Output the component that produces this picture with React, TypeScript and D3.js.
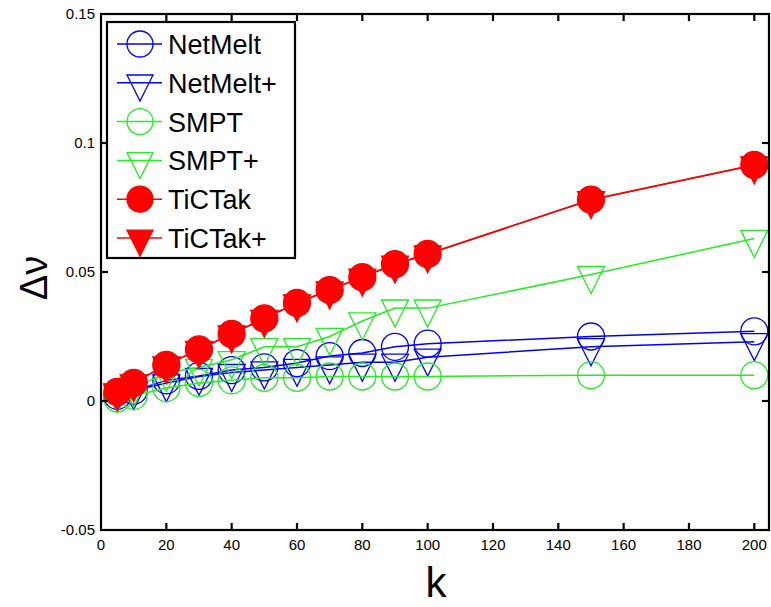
import React, { useEffect, useRef } from 'react';
import * as d3 from 'd3';

// k values on the x axis
const kValues = [5, 10, 20, 30, 40, 50, 60, 70, 80, 90, 100, 150, 200];

// series
const netMelt = [0.002, 0.004, 0.008, 0.0097, 0.012, 0.013, 0.0147, 0.0174, 0.0186, 0.021, 0.0222, 0.025, 0.027];
const netMeltPlus = [0.003, 0.004, 0.007, 0.0095, 0.011, 0.012, 0.013, 0.014, 0.015, 0.015, 0.017, 0.021, 0.023];
const smpt = [0.001, 0.002, 0.005, 0.007, 0.008, 0.009, 0.009, 0.0095, 0.0095, 0.0095, 0.0095, 0.01, 0.01];
const smptPlus = [0.003, 0.005, 0.011, 0.013, 0.016, 0.021, 0.021, 0.025, 0.031, 0.036, 0.036, 0.049, 0.063];
const ticTak = [0.0035, 0.007, 0.014, 0.02, 0.026, 0.032, 0.038, 0.043, 0.048, 0.053, 0.057, 0.078, 0.0915];
const ticTakPlus = [0.0035, 0.007, 0.014, 0.02, 0.026, 0.032, 0.038, 0.043, 0.048, 0.053, 0.057, 0.078, 0.0915];

const seriesNames = ['NetMelt', 'NetMelt+', 'SMPT', 'SMPT+', 'TiCTak', 'TiCTak+'];
const seriesValues = [netMelt, netMeltPlus, smpt, smptPlus, ticTak, ticTakPlus];
const seriesColors = ['#0000ff', '#0000ff', '#22ee22', '#22ee22', '#ff0000', '#ff0000'];
const seriesMarkers = ['circle', 'triangle', 'circle', 'triangle', 'circle', 'triangle'];
const seriesFilled = [false, false, false, false, true, true];

const xTicks = [0, 20, 40, 60, 80, 100, 120, 140, 160, 180, 200];
const yTicks = [-0.05, 0, 0.05, 0.1, 0.15];
const yTickLabels = ['-0.05', '0', '0.05', '0.1', '0.15'];

const FONT = '"Liberation Sans", Arial, Helvetica, sans-serif';

const drawMarker = (g, shape, cx, cy, color, filled, size) => {
  if (shape === 'circle') {
    g.append('circle')
      .attr('cx', cx)
      .attr('cy', cy)
      .attr('r', size / 2)
      .attr('fill', filled ? color : 'none')
      .attr('stroke', color)
      .attr('stroke-width', 1.3);
  } else {
    const w = size / 2;
    const top = size * 0.3;
    const tip = size * 0.7;
    g.append('path')
      .attr('d', `M${cx - w},${cy - top}L${cx + w},${cy - top}L${cx},${cy + tip}Z`)
      .attr('fill', filled ? color : 'none')
      .attr('stroke', color)
      .attr('stroke-width', 1.3)
      .attr('stroke-linejoin', 'miter');
  }
};

const DeltaChart = () => {
  const chartRef = useRef(null);

  useEffect(() => {
    const svg = d3.select(chartRef.current);
    svg.selectAll('*').remove();

    const left = 101, right = 769, top = 14, bottom = 530;

    const x = d3.scaleLinear().domain([0, 204.5]).range([left, right]);
    const y = d3.scaleLinear().domain([-0.05, 0.15]).range([bottom, top]);

    svg.append('rect').attr('width', 771).attr('height', 607).attr('fill', '#ffffff');

    // series: line first, then markers
    seriesValues.forEach((vals, i) => {
      const pts = kValues.map((k, j) => [k, vals[j]]);
      const line = d3.line()
        .x(d => x(d[0]))
        .y(d => y(d[1]));
      const g = svg.append('g');
      g.append('path')
        .datum(pts)
        .attr('fill', 'none')
        .attr('stroke', seriesColors[i])
        .attr('stroke-width', 1.5)
        .attr('d', line);
      pts.forEach(p => drawMarker(g, seriesMarkers[i], x(p[0]), y(p[1]), seriesColors[i], seriesFilled[i], 27));
    });

    // axes box with inward ticks on all sides
    const axes = svg.append('g').attr('stroke', '#000').attr('stroke-width', 2.2);
    axes.append('rect')
      .attr('x', left).attr('y', top)
      .attr('width', right - left).attr('height', bottom - top)
      .attr('fill', 'none');
    xTicks.slice(1).forEach(t => {
      axes.append('line').attr('x1', x(t)).attr('x2', x(t)).attr('y1', bottom).attr('y2', bottom - 7);
      axes.append('line').attr('x1', x(t)).attr('x2', x(t)).attr('y1', top).attr('y2', top + 7);
    });
    yTicks.slice(1, -1).forEach(t => {
      axes.append('line').attr('x1', left).attr('x2', left + 7).attr('y1', y(t)).attr('y2', y(t));
      axes.append('line').attr('x1', right).attr('x2', right - 7).attr('y1', y(t)).attr('y2', y(t));
    });

    // tick labels
    svg.append('g').selectAll('text')
      .data(xTicks)
      .join('text')
      .attr('x', d => x(d))
      .attr('y', 550)
      .attr('text-anchor', 'middle')
      .attr('font-family', FONT)
      .attr('font-size', 15)
      .text(d => d);

    svg.append('g').selectAll('text')
      .data(yTicks)
      .join('text')
      .attr('x', 95)
      .attr('y', d => y(d) + 5)
      .attr('text-anchor', 'end')
      .attr('font-family', FONT)
      .attr('font-size', 15)
      .text((d, i) => yTickLabels[i]);

    // axis titles
    svg.append('text')
      .attr('x', 436)
      .attr('y', 597)
      .attr('text-anchor', 'middle')
      .attr('font-family', FONT)
      .attr('font-size', 42)
      .text('k');

    svg.append('text')
      .attr('transform', 'translate(47,278) rotate(-90)')
      .attr('text-anchor', 'middle')
      .attr('font-family', FONT)
      .attr('font-size', 38)
      .text('Δν');

    // legend
    const leg = svg.append('g');
    leg.append('rect')
      .attr('x', 107).attr('y', 22)
      .attr('width', 188).attr('height', 236)
      .attr('fill', '#fff')
      .attr('stroke', '#000')
      .attr('stroke-width', 2.2);
    seriesNames.forEach((name, i) => {
      const cy = 44 + i * 38.8;
      leg.append('line')
        .attr('x1', 117).attr('x2', 162)
        .attr('y1', cy).attr('y2', cy)
        .attr('stroke', seriesColors[i])
        .attr('stroke-width', 1.5);
      drawMarker(leg, seriesMarkers[i], 140, cy, seriesColors[i], seriesFilled[i], 26);
      leg.append('text')
        .attr('x', 168)
        .attr('y', cy + 10)
        .attr('font-family', FONT)
        .attr('font-size', 27)
        .text(name);
    });
  }, []);

  return (
    <svg ref={chartRef} width={771} height={607} style={{ position: 'absolute', left: 0, top: 0 }}></svg>
  );
};

export default function App() {
  return <DeltaChart />;
}
